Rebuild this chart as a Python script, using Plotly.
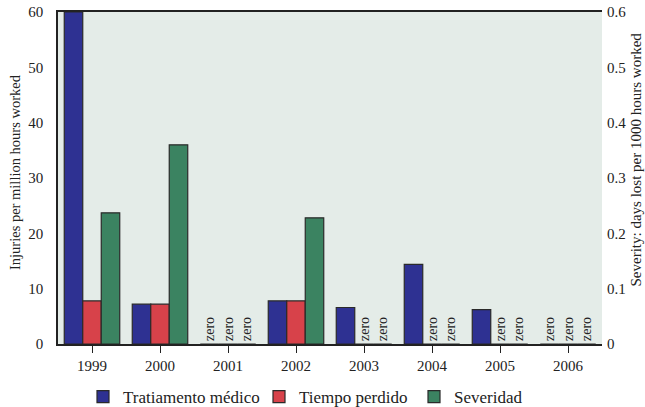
import plotly.graph_objects as go

years = ["1999", "2000", "2001", "2002", "2003", "2004", "2005", "2006"]
tratamiento = [60, 7.2, 0, 7.8, 6.6, 14.4, 6.2, 0]
tiempo = [7.8, 7.2, 0, 7.8, 0, 0, 0, 0]
severidad = [0.237, 0.36, 0, 0.228, 0, 0, 0, 0]

names = ["Tratiamento médico", "Tiempo perdido", "Severidad"]
colors = ["#2e3192", "#d7424a", "#3b8361"]
serif = "Liberation Serif"

L, R, T, B, W, H = 58, 43, 12, 63, 645, 407
PW, PH = W - L - R, H - T - B

def px_x(p):
    return (p - L) / PW

def px_y(p):
    return (H - B - p) / PH

def zero_text(vals):
    return ["zero" if v == 0 else "" for v in vals]

fig = go.Figure()
series = [(tratamiento, "y"), (tiempo, "y"), (severidad, "y2")]
offsets = [-0.408, -0.136, 0.136]
legends = ["legend", "legend2", "legend3"]
for i, (vals, ax) in enumerate(series):
    fig.add_trace(go.Bar(
        x=list(range(len(years))), y=vals, name=names[i], yaxis=ax,
        width=0.272, offset=offsets[i], legend=legends[i],
        marker=dict(color=colors[i], line=dict(color="#2a2a2a", width=1.2)),
        text=zero_text(vals), textposition="outside", textangle=-90,
        constraintext="none",
        textfont=dict(family=serif, size=14, color="#222"),
        cliponaxis=False,
    ))

leg_common = dict(orientation="h", y=px_y(397), yanchor="middle", xanchor="left",
                  font=dict(family=serif, size=17), bgcolor="rgba(0,0,0,0)")
swatch_left = [97, 273, 428]

fig.update_layout(
    width=W, height=H,
    margin=dict(l=L, r=R, t=T, b=B, autoexpand=False),
    paper_bgcolor="white", plot_bgcolor="#e4ece8",
    font=dict(family=serif, size=15, color="#222"),
    showlegend=True,
    legend=dict(x=px_x(swatch_left[0] - 14), **leg_common),
    legend2=dict(x=px_x(swatch_left[1] - 14), **leg_common),
    legend3=dict(x=px_x(swatch_left[2] - 14), **leg_common),
    xaxis=dict(tickmode="array", tickvals=list(range(len(years))), ticktext=years,
               range=[-0.5, 7.5], showline=True, linecolor="#222", linewidth=1.5,
               mirror=True, ticks="outside", ticklen=7, tickcolor="#222",
               showgrid=False, zeroline=False, tickfont=dict(size=15), automargin=False),
    yaxis=dict(range=[0, 60], tickvals=[0, 10, 20, 30, 40, 50, 60],
               showline=True, linecolor="#222", linewidth=1.5, showgrid=False,
               zeroline=False, ticks="", tickfont=dict(size=15), ticklabelstandoff=10,
               automargin=False),
    yaxis2=dict(range=[0, 0.6], tickvals=[0, 0.1, 0.2, 0.3, 0.4, 0.5, 0.6],
                overlaying="y", side="right", showline=False, showgrid=False,
                zeroline=False, ticks="", tickfont=dict(size=15), ticklabelstandoff=4,
                automargin=False),
    annotations=[
        dict(text="Injuries per million hours worked", xref="paper", yref="paper",
             x=px_x(15), y=px_y(172), textangle=-90, showarrow=False,
             xanchor="center", yanchor="middle", font=dict(size=14.5)),
        dict(text="Severity: days lost per 1000 hours worked", xref="paper", yref="paper",
             x=px_x(635.5), y=px_y(160), textangle=-90, showarrow=False,
             xanchor="center", yanchor="middle", font=dict(size=15)),
    ],
    bargap=0.18,
)

fig.write_html("out.html", config={"displayModeBar": False},
               post_script="document.body.style.margin='0';document.body.style.overflow='hidden';")
